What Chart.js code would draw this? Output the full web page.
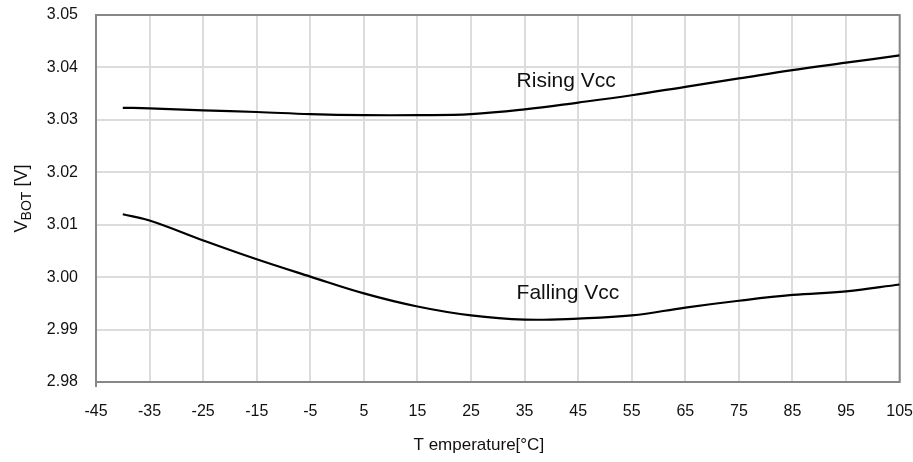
<!DOCTYPE html>
<html>
<head>
<meta charset="utf-8">
<script src="https://cdn.jsdelivr.net/npm/chart.js@4.4.1/dist/chart.umd.min.js"></script>
<style>
  html, body { margin: 0; padding: 0; background: #fff; }
  #wrap { width: 913px; height: 462px; }
</style>
</head>
<body>
<div id="wrap"><canvas id="vbotChart" width="913" height="462"></canvas></div>
<script>
// temperature points (°C) the curves are sampled at
const temps = [-40, -35, -25, -15, -5, 5, 15, 25, 35, 45, 55, 65, 75, 85, 95, 105];
// V_BOT threshold, supply rising
const risingVcc = [3.0323, 3.0322, 3.0318, 3.0315, 3.0311, 3.0309, 3.0309, 3.0311, 3.0320, 3.0333, 3.0347, 3.0363, 3.0379, 3.0395, 3.0409, 3.0423];
// V_BOT threshold, supply falling
const fallingVcc = [3.0120, 3.0108, 3.0070, 3.0034, 3.0001, 2.9969, 2.9944, 2.9927, 2.9919, 2.9921, 2.9927, 2.9942, 2.9955, 2.9966, 2.9973, 2.9986];

const xTicks = [-45, -35, -25, -15, -5, 5, 15, 25, 35, 45, 55, 65, 75, 85, 95, 105];
const yTicks = [2.98, 2.99, 3.00, 3.01, 3.02, 3.03, 3.04, 3.05];

// curve labels: [text, x, y] in data units
const curveLabels = [
  ["Rising Vcc", 35, 3.0373],
  ["Falling Vcc", 35, 2.9970],
];

const FONT = "'Liberation Sans', Arial, sans-serif";

const toPoints = (ys) => temps.map((t, i) => ({ x: t, y: ys[i] }));

// frame round the plot area, drawn over the grid
const frame = {
  id: "frame",
  beforeDatasetsDraw(chart) {
    const { ctx, chartArea: a } = chart;
    ctx.save();
    ctx.strokeStyle = "#878787";
    ctx.lineWidth = 2;
    ctx.strokeRect(a.left, a.top, a.right - a.left, a.bottom - a.top);
    // small stub below the lower left corner
    ctx.beginPath();
    ctx.moveTo(a.left, a.bottom);
    ctx.lineTo(a.left, a.bottom + 5);
    ctx.stroke();
    ctx.restore();
  },
};

// curve names, axis titles (y title has a subscript)
const texts = {
  id: "texts",
  afterDraw(chart) {
    const { ctx, scales } = chart;
    const a = chart.chartArea;
    ctx.save();
    ctx.fillStyle = "#111";
    ctx.font = "21px " + FONT;
    ctx.textAlign = "left";
    ctx.textBaseline = "middle";
    curveLabels.forEach(([txt, x, y]) => {
      ctx.fillText(txt, scales.x.getPixelForValue(x) - 8, scales.y.getPixelForValue(y));
    });

    // x title sits a little left of the plot centre
    ctx.font = "17px " + FONT;
    ctx.textAlign = "center";
    ctx.fillText("T emperature[°C]", (a.left + a.right) / 2 - 19, 445);

    const main = "18px " + FONT;
    const sub = "14px " + FONT;
    ctx.textAlign = "left";
    ctx.font = main;
    const wV = ctx.measureText("V").width;
    const wTail = ctx.measureText(" [V]").width;
    ctx.font = sub;
    const wSub = ctx.measureText("BOT").width;
    const total = wV + wSub + wTail;

    ctx.translate(27, (a.top + a.bottom) / 2);
    ctx.rotate(-Math.PI / 2);
    ctx.textBaseline = "alphabetic";
    let x = -total / 2;
    ctx.font = main;
    ctx.fillText("V", x, 0);
    x += wV;
    ctx.font = sub;
    ctx.fillText("BOT", x, 4);
    x += wSub;
    ctx.font = main;
    ctx.fillText(" [V]", x, 0);
    ctx.restore();
  },
};

new Chart(document.getElementById("vbotChart"), {
  type: "line",
  data: {
    datasets: [
      {
        label: "Rising Vcc",
        data: toPoints(risingVcc),
        borderColor: "#000",
        borderWidth: 2.2,
        pointRadius: 0,
        tension: 0.4,
        fill: false,
      },
      {
        label: "Falling Vcc",
        data: toPoints(fallingVcc),
        borderColor: "#000",
        borderWidth: 2.2,
        pointRadius: 0,
        tension: 0.4,
        fill: false,
      },
    ],
  },
  options: {
    responsive: false,
    animation: false,
    layout: { padding: { top: 15, right: 13, left: 0, bottom: 0 } },
    plugins: {
      legend: { display: false },
      tooltip: { enabled: false },
    },
    scales: {
      x: {
        type: "linear",
        min: -45,
        max: 105,
        afterBuildTicks: (axis) => {
          axis.ticks = xTicks.map((v) => ({ value: v }));
        },
        afterFit: (axis) => {
          axis.height = 80;
        },
        // tick marks kept invisible; their length spaces the labels off the axis
        grid: { color: "#dcdcdc", lineWidth: 2, drawTicks: true, tickLength: 20, tickColor: "rgba(0,0,0,0)" },
        border: { display: false },
        ticks: {
          padding: 0,
          color: "#111",
          font: { family: FONT, size: 16 },
          maxRotation: 0,
          autoSkip: false,
        },
      },
      y: {
        min: 2.98,
        max: 3.05,
        afterBuildTicks: (axis) => {
          axis.ticks = yTicks.map((v) => ({ value: v }));
        },
        afterFit: (axis) => {
          axis.width = 96;
        },
        grid: { color: "#dcdcdc", lineWidth: 2, drawTicks: true, tickLength: 18, tickColor: "rgba(0,0,0,0)" },
        border: { display: false },
        ticks: {
          padding: 0,
          color: "#111",
          font: { family: FONT, size: 16 },
          callback: (v) => Number(v).toFixed(2),
        },
      },
    },
  },
  plugins: [frame, texts],
});
</script>
</body>
</html>
